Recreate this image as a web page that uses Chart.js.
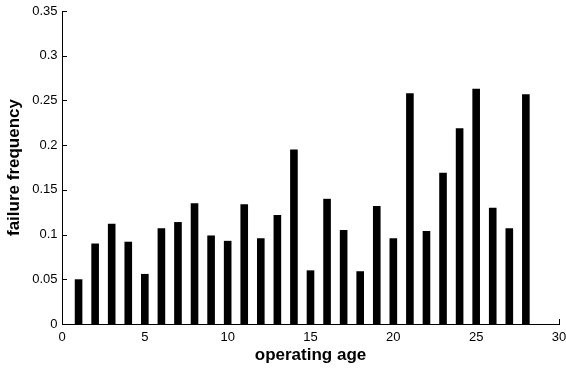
<!DOCTYPE html>
<html><head><meta charset="utf-8">
<script src="https://cdn.jsdelivr.net/npm/chart.js@4/dist/chart.umd.min.js"></script>
<style>html,body{margin:0;padding:0;background:#fff}#wrap{width:566px;height:369px;position:relative}</style>
</head><body><div id="wrap"><canvas id="c" width="566" height="369"></canvas></div>
<script>
const ages = [1,2,3,4,5,6,7,8,9,10,11,12,13,14,15,16,17,18,19,20,21,22,23,24,25,26,27,28];
const failureFrequency = [0.050,0.090,0.112,0.092,0.056,0.107,0.114,0.135,0.099,0.093,0.134,0.096,0.122,0.195,0.060,0.140,0.105,0.059,0.132,0.096,0.258,0.104,0.169,0.219,0.263,0.130,0.107,0.257];
const xTicks = [0,5,10,15,20,25,30];
const yTicks = [0,0.05,0.1,0.15,0.2,0.25,0.3,0.35];
const xTitle = 'operating age';
const yTitle = 'failure frequency';

const FONT = '"Liberation Sans", Arial, Helvetica, sans-serif';

const innerTicks = {
  id: 'innerTicks',
  afterDatasetsDraw(chart) {
    const {ctx, scales: {x, y}} = chart;
    ctx.save();
    ctx.strokeStyle = '#000';
    ctx.lineWidth = 1;
    ctx.beginPath();
    y.ticks.forEach(t => {
      const py = Math.round(y.getPixelForValue(t.value)) + 0.5;
      ctx.moveTo(x.left, py); ctx.lineTo(x.left + 5, py);
    });
    x.ticks.forEach(t => {
      const px = Math.round(x.getPixelForValue(t.value)) + 0.5;
      ctx.moveTo(px, y.bottom); ctx.lineTo(px, y.bottom - 5);
    });
    ctx.stroke();
    ctx.restore();
  }
};

new Chart(document.getElementById('c'), {
  type: 'bar',
  data: {
    datasets: [{
      data: ages.map((a, i) => ({x: a, y: failureFrequency[i]})),
      backgroundColor: '#000',
      borderWidth: 0,
      barPercentage: 0.46,
      categoryPercentage: 1
    }]
  },
  options: {
    responsive: false,
    animation: false,
    devicePixelRatio: 1,
    layout: {padding: {left: 0, right: 7, top: 11, bottom: 0}},
    plugins: {legend: {display: false}, tooltip: {enabled: false}},
    scales: {
      x: {
        type: 'linear', min: 0, max: 30, offset: false,
        afterBuildTicks: s => { s.ticks = xTicks.map(v => ({value: v})); },
        afterFit: s => { s.height = 45; s.paddingLeft = 0; s.paddingRight = 0; },
        grid: {display: false, drawTicks: false, offset: false},
        border: {display: true, color: '#000', width: 1},
        ticks: {color: '#000', font: {family: FONT, size: 13}, padding: 6, maxRotation: 0, autoSkip: false,
                callback: v => String(v)},
        title: {display: true, text: xTitle, color: '#000', font: {family: FONT, size: 17, weight: 'bold'}, padding: {top: 0, bottom: 3}}
      },
      y: {
        type: 'linear', min: 0, max: 0.35,
        afterBuildTicks: s => { s.ticks = yTicks.map(v => ({value: v})); },
        afterFit: s => { s.width = 62; s.paddingTop = 0; s.paddingBottom = 0; },
        grid: {display: false, drawTicks: false},
        border: {display: true, color: '#000', width: 1},
        ticks: {color: '#000', font: {family: FONT, size: 13}, padding: 4.5,
                callback: v => String(Number(v.toFixed(2)))},
        title: {display: true, text: yTitle, color: '#000', font: {family: FONT, size: 17, weight: 'bold'}, padding: {top: 4, bottom: 0}}
      }
    }
  },
  plugins: [innerTicks]
});
</script>
</body></html>
